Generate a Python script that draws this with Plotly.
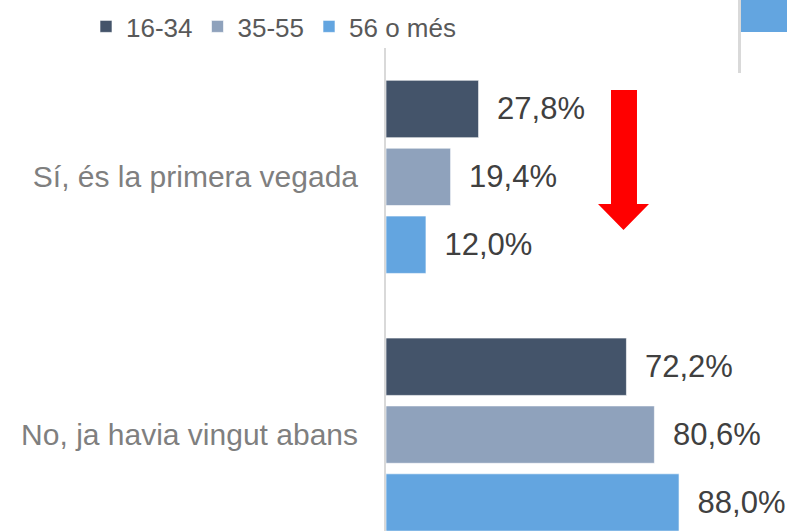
import plotly.graph_objects as go

categories = ["Sí, és la primera vegada", "No, ja havia vingut abans"]
series_names = ["16-34", "35-55", "56 o més"]
values_16_34 = [27.8, 72.2]
values_35_55 = [19.4, 80.6]
values_56_mes = [12.0, 88.0]
series_values = [values_16_34, values_35_55, values_56_mes]
colors = ["#44546A", "#8FA2BC", "#63A5E0"]

W, H = 787, 531
ML, MR, MT, MB = 386, 47, 48, 0
PW, PH = W - ML - MR, H - MT - MB


def px(x):
    return (x - ML) / PW


def py(y):
    return (H - MB - y) / PH


def fmt(v):
    return "\u2002" + f"{v:.1f}".replace(".", ",") + "%"


fig = go.Figure()
for name, vals, col in zip(series_names, series_values, colors):
    fig.add_trace(go.Bar(
        y=categories, x=vals, name=name, orientation="h",
        marker=dict(color=col, line=dict(color="rgba(255,255,255,0.6)", width=1)),
        text=[fmt(v) for v in vals], textposition="outside",
        textfont=dict(family="Liberation Sans", size=31, color="#404040"),
        cliponaxis=False, constraintext="none",
    ))

# red arrow
arrow = [(611, 90), (637, 90), (637, 204), (649, 204), (623.5, 230),
         (598, 204), (611, 204)]
path = "M " + " L ".join(f"{px(x):.4f},{py(y):.4f}" for x, y in arrow) + " Z"
shapes = [
    dict(type="path", xref="paper", yref="paper", path=path,
         fillcolor="#FF0000", line=dict(width=0)),
    dict(type="rect", xref="paper", yref="paper", x0=px(741), x1=px(787),
         y0=py(32), y1=py(0), fillcolor="#63A5E0", line=dict(width=0)),
    dict(type="line", xref="paper", yref="paper", x0=px(739.5), x1=px(739.5),
         y0=py(73), y1=py(0), line=dict(color="#D9D9D9", width=3)),
]

fig.update_layout(
    width=W, height=H,
    margin=dict(l=ML, r=MR, t=MT, b=MB, pad=0, autoexpand=False),
    paper_bgcolor="white", plot_bgcolor="white",
    barmode="group", bargap=0.21, bargroupgap=0.155,
    font=dict(family="Liberation Sans", color="#595959"),
    xaxis=dict(visible=False, range=[0, PW / 3.33]),
    yaxis=dict(type="category", categoryorder="array", categoryarray=categories,
               range=[1.374, -0.5], showline=True, linecolor="#D9D9D9",
               linewidth=2, showgrid=False, zeroline=False, ticks="",
               ticklabelstandoff=20,
               tickfont=dict(family="Liberation Sans", size=30, color="#7F7F7F")),
    showlegend=True,
    legend=dict(orientation="h", traceorder="normal", xref="paper",
                yref="paper", x=px(86), y=py(3), xanchor="left", yanchor="top",
                font=dict(family="Liberation Sans", size=26, color="#595959"),
                itemwidth=30, bgcolor="rgba(0,0,0,0)"),
    shapes=shapes,
)

fig.write_html(
    "out.html",
    config={"displayModeBar": False},
    post_script="document.body.style.margin='0';document.body.style.padding='0';"
                "document.body.style.overflow='hidden';",
)
